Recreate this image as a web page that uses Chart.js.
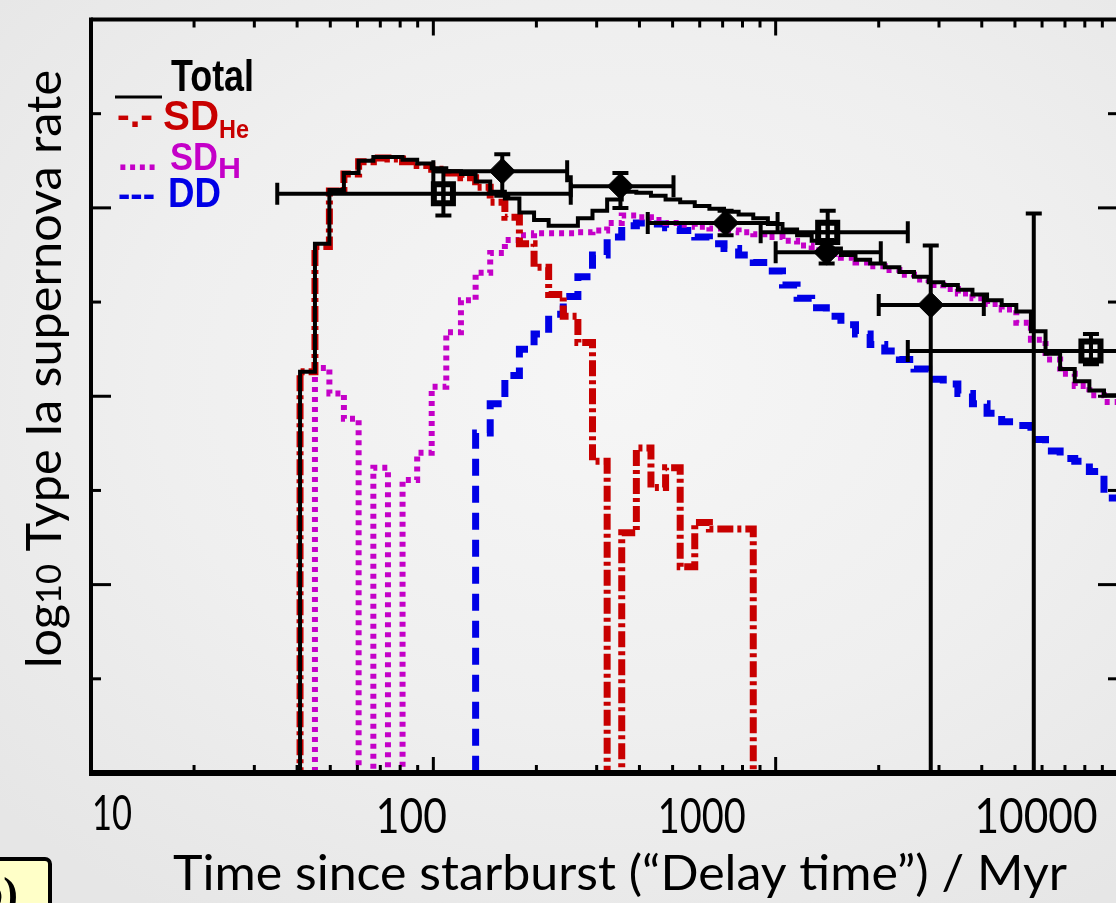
<!DOCTYPE html>
<html>
<head>
<meta charset="utf-8">
<title>Type Ia supernova rate vs delay time</title>
<script src="https://cdn.jsdelivr.net/npm/chart.js@4.4.1/dist/chart.umd.min.js"></script>
<style>
  html, body { margin: 0; padding: 0; }
  body {
    width: 1116px; height: 903px; overflow: hidden; position: relative;
    background: radial-gradient(ellipse 75% 70% at 55% 42%, #f6f6f6 0%, #efefef 55%, #e6e6e6 100%);
  }
  #chart { position: absolute; left: 0; top: 0; }
  #tag {
    position: absolute; left: -60px; top: 857px; width: 112px; height: 60px; box-sizing: border-box;
    background: #ffffc8; border: 4px solid #000; border-radius: 0 7px 0 0;
    font: bold 44px "Liberation Serif"; text-align: right; padding-right: 30px; line-height: 66px;
  }
</style>
</head>
<body>
<canvas id="chart" width="1140" height="903"></canvas>
<div id="tag">(b)</div>
<script>
// bin no tiene eventos -> log de la tasa queda fuera del grafico
const OFF = -9;

// bordes de los bins (Myr)
const binEdges = [40.8, 45.1, 49.7, 54.8, 60.5, 66.8, 73.7, 81.3, 89.7, 98.9,
  109.1, 120.4, 132.9, 146.6, 161.8, 178.4, 196.9, 217.2, 239.6, 264.4,
  291.7, 321.9, 355.1, 391.8, 432.2, 476.9, 526.1, 580.3, 640.4, 706.6,
  779.5, 860.1, 948.9, 1047, 1155, 1274, 1406, 1551, 1711, 1888,
  2083, 2298, 2536, 2798, 3087, 3406, 3757, 4145, 4573, 5046,
  5567, 6142, 6776, 7476, 8248, 9100, 10040];

// log10 tasa por bin
const totalRate = [-3.74, -2.38, -1.81, -1.63, -1.50, -1.46, -1.46, -1.49, -1.53, -1.58,
  -1.61, -1.64, -1.72, -1.83, -1.90, -2.05, -2.13, -2.19, -2.19, -2.11,
  -2.03, -1.91, -1.83, -1.84, -1.87, -1.91, -1.94, -1.98, -2.01, -2.04,
  -2.07, -2.11, -2.17, -2.23, -2.29, -2.35, -2.43, -2.50, -2.55, -2.59,
  -2.63, -2.68, -2.73, -2.79, -2.82, -2.87, -2.92, -2.98, -3.03, -3.10,
  -3.31, -3.55, -3.71, -3.84, -3.94, -3.99];

const sdHeRate = [-3.74, -2.41, -1.82, -1.64, -1.51, -1.47, -1.48, -1.51, -1.55, -1.59,
  -1.63, -1.68, -1.78, -1.94, -2.10, -2.38, -2.63, -2.92, -3.15, -3.43,
  -4.69, OFF, -5.45, -4.55, -4.97, -4.76, -5.81, -5.34, -5.41, -5.41,
  -5.41];

const sdHRate = [OFF, -3.70, -3.97, -4.24, OFF, -4.76, OFF, -4.89, -4.60, -3.90,
  -3.32, -2.98, -2.69, -2.48, -2.34, -2.29, -2.27, -2.27, -2.27, -2.26,
  -2.24, -2.16, -2.08, -2.10, -2.13, -2.16, -2.18, -2.20, -2.22, -2.24,
  -2.26, -2.28, -2.31, -2.35, -2.40, -2.45, -2.49, -2.53, -2.58, -2.62,
  -2.66, -2.71, -2.76, -2.82, -2.86, -2.91, -2.96, -3.02, -3.08, -3.22,
  -3.40, -3.61, -3.76, -3.89, -3.99, -4.06];

const ddRate = [OFF, OFF, OFF, OFF, OFF, OFF, OFF, OFF, OFF, OFF,
  OFF, OFF, -4.39, -4.08, -3.78, -3.50, -3.34, -3.13, -2.94, -2.73,
  -2.50, -2.31, -2.19, -2.16, -2.17, -2.21, -2.24, -2.31, -2.38, -2.43,
  -2.50, -2.58, -2.67, -2.82, -2.96, -3.06, -3.15, -3.24, -3.34, -3.45,
  -3.52, -3.61, -3.71, -3.82, -3.87, -3.97, -4.08, -4.18, -4.27, -4.31,
  -4.46, -4.58, -4.66, -4.69, -4.80, -5.08];

// observaciones: rombos (llenos)
const dmX   = [159, 352, 714, 1409, 2838, 5675];
const dmXlo = [100, 252, 423, 1000, 2000, 5675];
const dmXhi = [246, 503, 1013, 2028, 4055, 5675];
const dmY   = [-1.61, -1.77, -2.16, -2.47, -3.03, null];
const dmYlo = [-1.87, -2.00, -2.29, -2.59, OFF, OFF];
const dmYhi = [-1.43, -1.63, -2.03, -2.34, -2.40, -2.06];

// observaciones: cuadrados abiertos
const sqX   = [107, 1419, 8337];
const sqXlo = [35, 904, 2432];
const sqXhi = [252, 2432, 20000];
const sqY   = [-1.85, -2.26, -3.52];
const sqYlo = [-2.08, -2.50, -3.66];
const sqYhi = [-1.61, -2.03, -3.34];

// etiquetas del eje x
const xTickVals = [10, 100, 1000, 10000];
const xTickText = ['10', '100', '1000', '10000'];

const RED = '#c80000', MAG = '#c400c8', BLUE = '#0000e6';

let xy = (xs, ys) => xs.map((v, i) => ({x: v, y: ys[i]}));

function steps(vals) {
    const pts = [{x: binEdges[0], y: OFF}];
    vals.forEach((v, i) => pts.push({x: binEdges[i], y: v}));
    const n = vals.length;
    pts.push({x: binEdges[n], y: vals[n - 1]});
    pts.push({x: binEdges[n], y: OFF});
    return pts;
}

function fitText(ctx, txt, x, base, w, font, align) {
    ctx.font = font;
    const m = ctx.measureText(txt).width;
    ctx.save();
    ctx.translate(x, base);
    ctx.scale(w / m, 1);
    ctx.textAlign = align || 'left';
    ctx.textBaseline = 'alphabetic';
    ctx.fillText(txt, 0, 0);
    ctx.restore();
}

function line(ctx, x1, y1, x2, y2) {
    ctx.beginPath(); ctx.moveTo(x1, y1); ctx.lineTo(x2, y2); ctx.stroke();
}

function errBars(ctx, x, y, X, Xlo, Xhi, Y, Ylo, Yhi) {
    for (let i = 0; i < X.length; i++) {
        const px = x.getPixelForValue(X[i]);
        const t = y.getPixelForValue(Yhi[i]), b = y.getPixelForValue(Ylo[i]);
        if (Y[i] !== null && Xhi[i] > Xlo[i]) {
            const py = y.getPixelForValue(Y[i]);
            const l = x.getPixelForValue(Xlo[i]), r = x.getPixelForValue(Xhi[i]);
            line(ctx, l, py, r, py);
            line(ctx, l, py - 11, l, py + 11);
            line(ctx, r, py - 11, r, py + 11);
        }
        line(ctx, px, t, px, b);
        line(ctx, px - 8, t, px + 8, t);
        line(ctx, px - 8, b, px + 8, b);
    }
}

const decor = {
    id: 'decor',
    afterDatasetsDraw(chart) {
        const {ctx, chartArea: a, scales: {x, y}} = chart;
        ctx.save();
        ctx.beginPath();
        ctx.rect(a.left, a.top, a.right - a.left, a.bottom - a.top);
        ctx.clip();
        ctx.strokeStyle = '#000';
        ctx.lineWidth = 4;
        ctx.lineCap = 'butt';
        errBars(ctx, x, y, dmX, dmXlo, dmXhi, dmY, dmYlo, dmYhi);
        errBars(ctx, x, y, sqX, sqXlo, sqXhi, sqY, sqYlo, sqYhi);
        ctx.restore();
    },
    afterDraw(chart) {
        const {ctx, chartArea: a, scales: {x, y}} = chart;
        ctx.save();
        ctx.strokeStyle = '#000';
        ctx.fillStyle = '#000';

        // ticks
        ctx.lineWidth = 3;
        [10, 100, 1000].forEach(d => {
            for (let m = 1; m <= 9; m++) {
                const px = x.getPixelForValue(m * d);
                const len = m === 1 ? 16 : 8;
                line(ctx, px, a.bottom, px, a.bottom - len);
                line(ctx, px, a.top, px, a.top + len);
            }
        });
        for (let v = -7; v <= -1; v++) {
            const py = y.getPixelForValue(v);
            const len = v % 2 === 0 ? 20 : 10;
            line(ctx, a.left, py, a.left + len, py);
            line(ctx, a.right, py, a.right - len, py);
        }

        // marco
        ctx.lineWidth = 4;
        line(ctx, a.left, a.top, a.right, a.top);
        line(ctx, a.left, a.top - 2, a.left, a.bottom);
        line(ctx, a.right, a.top - 2, a.right, a.bottom);
        ctx.lineWidth = 6;
        line(ctx, a.left - 2, a.bottom, a.right + 2, a.bottom);

        // etiquetas eje x
        const shift = [21, -22, -74, -82], wid = [40, 71, 88, 123];
        xTickVals.forEach((v, i) => {
            fitText(ctx, xTickText[i], x.getPixelForValue(v) + shift[i], i === 0 ? 830 : 833,
                wid[i], '48px Lato', 'center');
        });

        // titulo eje x
        fitText(ctx, 'Time since starburst (\u201cDelay time\u201d) / Myr', 620, 890, 894, '48px Lato', 'center');

        // titulo eje y
        const parts = [['log', 48], ['10', 34], [' Type Ia supernova rate', 48]];
        let w = 0;
        parts.forEach(p => { ctx.font = p[1] + 'px Lato'; w += ctx.measureText(p[0]).width; });
        ctx.save();
        ctx.translate(61, 369);
        ctx.rotate(-Math.PI / 2);
        ctx.scale(598 / w, 1);
        let cx = -w / 2;
        ctx.textAlign = 'left';
        parts.forEach(p => {
            ctx.font = p[1] + 'px Lato';
            ctx.fillText(p[0], cx, 0);
            cx += ctx.measureText(p[0]).width;
        });
        ctx.restore();

        // leyenda
        const B = 'bold ', F = 'px "Liberation Sans"';
        ctx.lineWidth = 3;
        line(ctx, 115, 97, 162, 97);
        fitText(ctx, 'Total', 171, 91, 83, B + 44 + F);

        ctx.fillStyle = RED;
        fitText(ctx, '-.-', 117, 127, 36, B + 36 + F);
        fitText(ctx, 'SD', 163, 130, 56, B + 42 + F);
        fitText(ctx, 'He', 219, 138, 30, B + 25 + F);

        ctx.fillStyle = MAG;
        fitText(ctx, '....', 118, 170, 39, B + 36 + F);
        fitText(ctx, 'SD', 170, 170, 48, B + 38 + F);
        fitText(ctx, 'H', 218, 178, 23, B + 29 + F);

        ctx.fillStyle = BLUE;
        fitText(ctx, '---', 118, 206, 37, B + 36 + F);
        fitText(ctx, 'DD', 168, 207, 53, B + 42 + F);
        ctx.restore();
    }
};

const stepLine = (vals, color, width, dash) => ({
    data: steps(vals),
    showLine: true,
    stepped: true,
    borderColor: color,
    borderWidth: width,
    borderDash: dash,
    borderCapStyle: 'butt',
    borderJoinStyle: 'miter',
    pointRadius: 0,
    fill: false
});

const chartCtx = document.getElementById('chart').getContext('2d');
const myChart = new Chart(chartCtx, {
    type: 'scatter',
    data: {
        datasets: [
            { label: 'diamonds', data: xy(dmX, dmY), pointStyle: 'rectRot', pointRadius: 13,
              backgroundColor: '#000', borderColor: '#000', borderWidth: 1 },
            { label: 'squares cross', data: xy(sqX, sqY), pointStyle: 'cross', pointRadius: 9,
              borderColor: '#000', borderWidth: 4 },
            { label: 'squares', data: xy(sqX, sqY), pointStyle: 'rect', pointRadius: 13.5,
              backgroundColor: 'rgba(0,0,0,0)', borderColor: '#000', borderWidth: 6 },
            Object.assign({ label: 'Total' }, stepLine(totalRate, '#000', 4, [])),
            Object.assign({ label: 'SD_He' }, stepLine(sdHeRate, RED, 7, [16, 4, 4, 4])),
            Object.assign({ label: 'SD_H' }, stepLine(sdHRate, MAG, 6, [5, 5])),
            Object.assign({ label: 'DD' }, stepLine(ddRate, BLUE, 7, [17, 10]))
        ]
    },
    options: {
        responsive: false,
        animation: false,
        devicePixelRatio: 1,
        layout: { padding: { left: 91, top: 12, right: 22, bottom: 130 } },
        plugins: { legend: { display: false }, tooltip: { enabled: false } },
        scales: {
            x: { type: 'logarithmic', min: 10, max: 10000, display: false },
            y: { type: 'linear', min: -8, max: 0, display: false }
        }
    },
    plugins: [decor]
});
</script>
</body>
</html>
